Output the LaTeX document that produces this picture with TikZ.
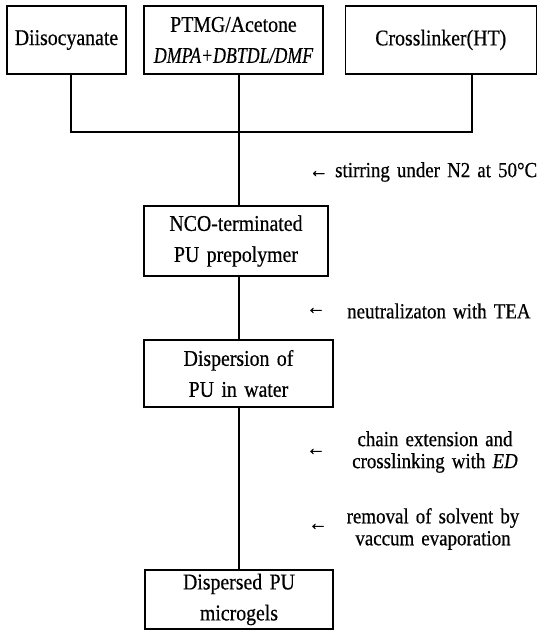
\documentclass[tikz,border=0pt]{standalone}
\usepackage{fontspec}
\usepackage{graphicx}
\setmainfont{Liberation Serif}[FakeStretch=0.88,WordSpace=1.5,FakeBold=0.5]
\newcommand{\narrowit}[1]{\scalebox{0.9}[1]{\itshape #1}}
\begin{document}
\begin{tikzpicture}[x=1pt,y=-1pt,
  box/.style={draw,line width=1.3pt,inner sep=0pt,align=center,
    font=\fontsize{22.5}{31}\selectfont},
  note/.style={inner sep=0pt,align=center,font=\fontsize{21.5}{22}\selectfont},
  link/.style={line width=1.3pt}]
\useasboundingbox (0,0) rectangle (538,631);
% top boxes
\node[box,minimum width=119pt,minimum height=68pt] (dii) at (66.5,40) {Diisocyanate};
\node[box,minimum width=179pt,minimum height=68pt] (ptmg) at (233.5,40) {PTMG/Acetone\\\narrowit{DMPA+DBTDL/DMF}};
\node[box,minimum width=191pt,minimum height=68pt] (cross) at (440.75,40) {Crosslinker(HT)};
% process boxes
\node[box,minimum width=184pt,minimum height=70pt] (nco) at (236,241) {NCO-terminated\\PU prepolymer};
\node[box,minimum width=189pt,minimum height=67pt] (disp) at (238.5,373.5) {Dispersion of\\PU in water};
\node[box,minimum width=188pt,minimum height=59pt] (final) at (239,599.5) {Dispersed PU\\microgels};
% junction coordinates
\coordinate (jl) at (71,132);
\coordinate (jm) at (239,132);
\coordinate (jr) at (472,132);
% connectors
\draw[link] (jl |- dii.south) -- (jl) -- (jr) -- (jr |- cross.south);
\draw[link] (jm |- ptmg.south) -- (jm |- nco.north);
\draw[link] (jm |- nco.south) -- (jm |- disp.north);
\draw[link] (jm |- disp.south) -- (jm |- final.north);
% annotations
\node[note,anchor=west] (stir) at (309,172) {← stirring under N2 at 50°C};
\node[note] (a1) at (316,311) {←};
\node[note,anchor=west] (neut) at (347,311) {neutralizaton with TEA};
\node[note] (a2) at (316,452) {←};
\node[note] (chain) at (435,452) {chain extension and\\crosslinking with \textit{ED}};
\node[note] (a3) at (318,527) {←};
\node[note] (rem) at (433,529) {removal of solvent by\\vaccum evaporation};
\end{tikzpicture}
\end{document}
